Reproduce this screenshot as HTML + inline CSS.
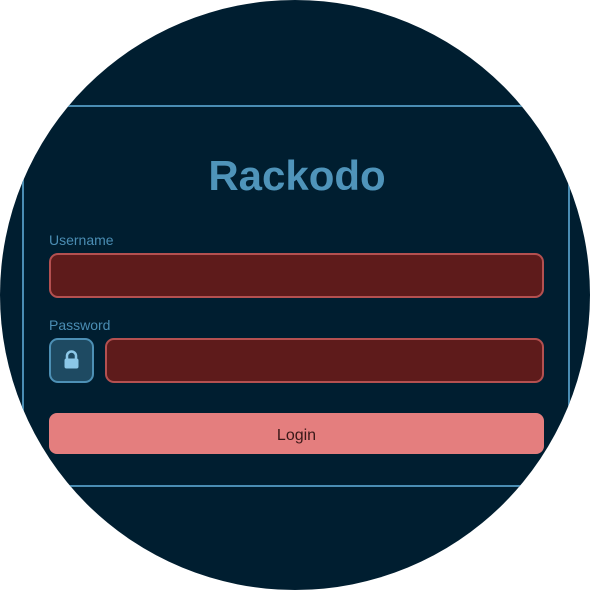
<!DOCTYPE html>
<html><head><style>
html,body{margin:0;padding:0;background:#fff;}
body{width:590px;height:590px;position:relative;overflow:hidden;font-family:"Liberation Sans",sans-serif;}
.circle{position:absolute;left:0;top:0;width:590px;height:590px;border-radius:50%;background:#001e30;overflow:hidden;}
.card{position:absolute;left:22px;top:105px;width:544px;height:378px;border:2px solid #4a8db3;box-sizing:content-box;}
.title{position:absolute;left:0;width:594px;top:152px;text-align:center;color:#4f94ba;font-weight:bold;font-size:42px;line-height:48px;}
.lbl{position:absolute;left:49px;color:#4a8db3;font-size:14px;}
.inp{position:absolute;background:#5e1b1b;border:2px solid #b45050;border-radius:9px;box-sizing:border-box;}
.lock{position:absolute;left:49px;top:338px;width:45px;height:45px;box-sizing:border-box;background:#1e4a62;border:2px solid #4d90b5;border-radius:9px;}
.btn{position:absolute;left:49px;top:413px;width:495px;height:41px;background:#e47e7e;border-radius:8px;text-align:center;line-height:45px;font-size:16px;color:#3a1818;}
</style></head><body>
<div class="circle">
<div class="card"></div>
<div class="title">Rackodo</div>
<div class="lbl" style="top:232px">Username</div>
<div class="inp" style="left:49px;top:253px;width:495px;height:45px"></div>
<div class="lbl" style="top:317px">Password</div>
<div class="lock">
<svg width="41" height="41" viewBox="0 0 41 41"><path d="M16 19v-3a4.5 4.5 0 0 1 9 0v3" fill="none" stroke="#8cc8e8" stroke-width="2.5"/><rect x="13.5" y="18.5" width="14" height="10" rx="2" fill="#8cc8e8"/></svg>
</div>
<div class="inp" style="left:105px;top:338px;width:439px;height:45px"></div>
<div class="btn">Login</div>
</div>
</body></html>
